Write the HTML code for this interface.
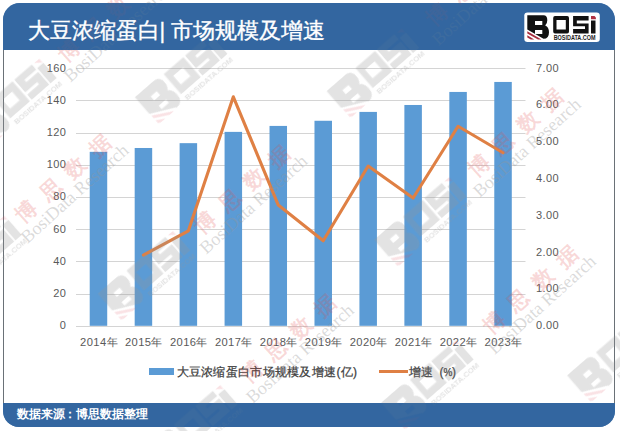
<!DOCTYPE html>
<html><head><meta charset="utf-8">
<style>
html,body{margin:0;padding:0;}
body{width:620px;height:431px;position:relative;overflow:hidden;background:#fff;font-family:"Liberation Sans",sans-serif;}
.card{position:absolute;left:3px;top:3px;width:610px;height:422px;border:1px solid #4a5a6a;border-top:0;border-bottom:0;border-radius:16px;background:#fff;overflow:hidden;}
.hdr{position:absolute;left:3px;top:3px;width:612px;height:46.5px;background:#3366a0;border-radius:17px 17px 0 0;}
.ftr{position:absolute;left:3px;top:403px;width:612px;height:24px;background:#3366a0;border-radius:0 0 16px 16px;}
.side{position:absolute;top:40px;width:1px;height:370px;background:#6a7177;}
.title{position:absolute;left:27.5px;top:16px;font-size:21.5px;color:#fff;white-space:nowrap;line-height:30px;-webkit-text-stroke:0.35px #fff;}
.foot{position:absolute;left:17px;top:405px;font-size:11.8px;font-weight:bold;color:#fff;white-space:nowrap;line-height:18px;}
.logo{position:absolute;left:524px;top:12px;}
.plot{position:absolute;left:0;top:0;}
.lab{position:absolute;font-size:11px;color:#595959;line-height:14px;white-space:nowrap;letter-spacing:0.4px;}
.la{left:20px;width:46.3px;text-align:right;}
.ra{left:536px;}
.ca{top:335px;width:50px;text-align:center;font-size:11.2px;}
.leg{position:absolute;top:363.5px;font-size:12px;color:#3d3d3d;line-height:16px;white-space:nowrap;-webkit-text-stroke:0.25px #3d3d3d;}
</style></head><body>
<div class="side" style="left:3px"></div>
<div class="side" style="left:614px"></div>
<div class="hdr"></div>
<div class="ftr"></div>
<svg class="plot" width="620" height="431">
<line x1="76.0" y1="68.5" x2="525.5" y2="68.5" stroke="#d4d4d4" stroke-width="1"/>
<line x1="76.0" y1="100.5" x2="525.5" y2="100.5" stroke="#d4d4d4" stroke-width="1"/>
<line x1="76.0" y1="133.5" x2="525.5" y2="133.5" stroke="#d4d4d4" stroke-width="1"/>
<line x1="76.0" y1="165.5" x2="525.5" y2="165.5" stroke="#d4d4d4" stroke-width="1"/>
<line x1="76.0" y1="197.5" x2="525.5" y2="197.5" stroke="#d4d4d4" stroke-width="1"/>
<line x1="76.0" y1="229.5" x2="525.5" y2="229.5" stroke="#d4d4d4" stroke-width="1"/>
<line x1="76.0" y1="261.5" x2="525.5" y2="261.5" stroke="#d4d4d4" stroke-width="1"/>
<line x1="76.0" y1="294.5" x2="525.5" y2="294.5" stroke="#d4d4d4" stroke-width="1"/>
<line x1="76.0" y1="326.5" x2="525.5" y2="326.5" stroke="#d4d4d4" stroke-width="1"/>
<rect x="89.72" y="151.85" width="17.5" height="173.95" fill="#5b9bd5"/>
<rect x="134.68" y="147.99" width="17.5" height="177.81" fill="#5b9bd5"/>
<rect x="179.62" y="143.16" width="17.5" height="182.64" fill="#5b9bd5"/>
<rect x="224.58" y="131.88" width="17.5" height="193.92" fill="#5b9bd5"/>
<rect x="269.52" y="125.92" width="17.5" height="199.88" fill="#5b9bd5"/>
<rect x="314.48" y="120.77" width="17.5" height="205.03" fill="#5b9bd5"/>
<rect x="359.43" y="111.91" width="17.5" height="213.89" fill="#5b9bd5"/>
<rect x="404.38" y="104.98" width="17.5" height="220.82" fill="#5b9bd5"/>
<rect x="449.33" y="91.94" width="17.5" height="233.86" fill="#5b9bd5"/>
<rect x="494.28" y="81.95" width="17.5" height="243.85" fill="#5b9bd5"/>
<polyline points="143.43,255.12 188.38,230.82 233.33,96.82 278.27,205.05 323.23,240.76 368.18,166.03 413.12,198.05 458.08,126.27 503.03,152.77" fill="none" stroke="#df8044" stroke-width="3.1" stroke-linejoin="round" stroke-linecap="round"/>
</svg>
<div class="lab la" style="top:60.60px">160</div>
<div class="lab la" style="top:92.81px">140</div>
<div class="lab la" style="top:125.03px">120</div>
<div class="lab la" style="top:157.24px">100</div>
<div class="lab la" style="top:189.45px">80</div>
<div class="lab la" style="top:221.66px">60</div>
<div class="lab la" style="top:253.88px">40</div>
<div class="lab la" style="top:286.09px">20</div>
<div class="lab la" style="top:318.30px">0</div>
<div class="lab ra" style="top:60.60px">7.00</div>
<div class="lab ra" style="top:97.41px">6.00</div>
<div class="lab ra" style="top:134.23px">5.00</div>
<div class="lab ra" style="top:171.04px">4.00</div>
<div class="lab ra" style="top:207.86px">3.00</div>
<div class="lab ra" style="top:244.67px">2.00</div>
<div class="lab ra" style="top:281.49px">1.00</div>
<div class="lab ra" style="top:318.30px">0.00</div>
<div class="lab ca" style="left:73.97px">2014年</div>
<div class="lab ca" style="left:118.93px">2015年</div>
<div class="lab ca" style="left:163.88px">2016年</div>
<div class="lab ca" style="left:208.83px">2017年</div>
<div class="lab ca" style="left:253.77px">2018年</div>
<div class="lab ca" style="left:298.73px">2019年</div>
<div class="lab ca" style="left:343.68px">2020年</div>
<div class="lab ca" style="left:388.62px">2021年</div>
<div class="lab ca" style="left:433.58px">2022年</div>
<div class="lab ca" style="left:478.53px">2023年</div>
<div style="position:absolute;left:149px;top:367.5px;width:25.3px;height:7.5px;background:#5b9bd5"></div>
<div class="leg" style="left:176.5px;letter-spacing:0.3px">大豆浓缩蛋白市场规模及增速(亿)</div>
<div style="position:absolute;left:379px;top:370px;width:29px;height:2.9px;background:#df8044"></div>
<div class="leg" style="left:408.5px">增速<span style="margin-left:7px">(</span><span style="font-size:10px;letter-spacing:-0.3px">%</span><span>)</span></div>
<svg style="position:absolute;left:0;top:0" width="620" height="431">
<defs>
<filter id="bl" x="-20%" y="-20%" width="140%" height="140%"><feGaussianBlur stdDeviation="0.55"/></filter>
<g id="wmlogo">
<g opacity="0.26" filter="url(#bl)">
<path d="M3,2.5 H20 Q25,2.5 25,8 Q25,12 22.5,13.5 Q26,15 26,20 Q26,26.5 20,26.5 H21 L3,17.5 Z M11,8.5 V13 H17.5 V8.5 Z M11,17.2 V21.2 H18.5 V17.2 Z" fill="#969696" stroke="#969696" stroke-width="0.8" stroke-linejoin="round" fill-rule="evenodd"/>
<path d="M29,3.5 H46.5 V21.5 H29 Z M32.5,8 V17 H42.3 V8 Z" fill="#969696" stroke="#969696" stroke-width="0.8" stroke-linejoin="round" fill-rule="evenodd"/>
<path d="M49,3.5 H64.5 V7.5 H53.5 V10.5 H64.5 V21.5 H49 V17.5 H60 V14.5 H49 Z" fill="#969696" stroke="#969696" stroke-width="0.8" stroke-linejoin="round"/>
<rect x="66.5" y="8" width="5" height="13.5" fill="#969696" stroke="#969696" stroke-width="0.8" stroke-linejoin="round"/>
<text x="72" y="28.3" text-anchor="end" font-family="Liberation Sans" font-weight="bold" font-size="5.6" fill="#969696" textLength="43" lengthAdjust="spacingAndGlyphs">BOSIDATA.COM</text>
</g>
<g opacity="0.16" filter="url(#bl)">
<path d="M3,19.5 L17,27.5 H13 L3,22 Z M3,24 L9,27.5 H5 L3,26.5 Z" fill="#e05060"/>
<path d="M67,3.5 H71.5 V7 Z" fill="#e05060"/>
</g>
</g>
</defs>
<g transform="translate(130.1,97.45) rotate(-41) scale(1.42)"><use href="#wmlogo"/></g>
<g transform="translate(321.8,91.3) rotate(-41) scale(1.42)"><use href="#wmlogo"/></g>
<g transform="translate(-40.7,121.6) rotate(-41) scale(1.42)"><use href="#wmlogo"/></g>
<g transform="translate(369.3,240.0) rotate(-41) scale(1.42)"><use href="#wmlogo"/></g>
<g transform="translate(92.9,293.9) rotate(-41) scale(1.42)"><use href="#wmlogo"/></g>
<g transform="translate(376.3,403.0) rotate(-41) scale(1.42)"><use href="#wmlogo"/></g>
<g transform="translate(562.3,375.6) rotate(-41) scale(1.42)"><use href="#wmlogo"/></g>
<g transform="translate(140.3,448.0) rotate(-41) scale(1.42)"><use href="#wmlogo"/></g>
<g transform="translate(-75.7,278.6) rotate(-41) scale(1.42)"><use href="#wmlogo"/></g>
<g transform="translate(204.5,222.7) rotate(-42)"><text x="-10" y="7.5" font-size="21" font-weight="bold" fill="#e05050" fill-opacity="0.22" letter-spacing="12">博思数据</text><text x="-20" y="25" font-family="Liberation Serif" font-size="18" fill="#969696" fill-opacity="0.35">BosiData Research</text></g>
<g transform="translate(25.6,212.0) rotate(-42)"><text x="-10" y="7.5" font-size="21" font-weight="bold" fill="#e05050" fill-opacity="0.22" letter-spacing="12">博思数据</text><text x="-20" y="25" font-family="Liberation Serif" font-size="18" fill="#969696" fill-opacity="0.35">BosiData Research</text></g>
<g transform="translate(478.0,166.0) rotate(-42)"><text x="-10" y="7.5" font-size="21" font-weight="bold" fill="#e05050" fill-opacity="0.22" letter-spacing="12">博思数据</text><text x="-20" y="25" font-family="Liberation Serif" font-size="18" fill="#969696" fill-opacity="0.35">BosiData Research</text></g>
<g transform="translate(493.0,323.0) rotate(-42)"><text x="-10" y="7.5" font-size="21" font-weight="bold" fill="#e05050" fill-opacity="0.22" letter-spacing="12">博思数据</text><text x="-20" y="25" font-family="Liberation Serif" font-size="18" fill="#969696" fill-opacity="0.35">BosiData Research</text></g>
<g transform="translate(251.0,372.0) rotate(-42)"><text x="-10" y="7.5" font-size="21" font-weight="bold" fill="#e05050" fill-opacity="0.22" letter-spacing="12">博思数据</text><text x="-20" y="25" font-family="Liberation Serif" font-size="18" fill="#969696" fill-opacity="0.35">BosiData Research</text></g>
<g transform="translate(436.6,14.3) rotate(-42)"><text x="-10" y="7.5" font-size="21" font-weight="bold" fill="#e05050" fill-opacity="0.22" letter-spacing="12">博思数据</text><text x="-20" y="25" font-family="Liberation Serif" font-size="18" fill="#969696" fill-opacity="0.35">BosiData Research</text></g>
<g transform="translate(68.6,50.8) rotate(-42)"><text x="-10" y="7.5" font-size="21" font-weight="bold" fill="#e05050" fill-opacity="0.22" letter-spacing="12">博思数据</text><text x="-20" y="25" font-family="Liberation Serif" font-size="18" fill="#969696" fill-opacity="0.35">BosiData Research</text></g>
</svg>
<div class="hdr" style="opacity:0.7"></div>
<div class="ftr" style="opacity:0.7"></div>
<div class="title">大豆浓缩蛋白| 市场规模及增速</div>
<svg class="logo" width="76" height="31" viewBox="0 0 76 31">
<rect x="0.3" y="0.4" width="75.5" height="29.6" rx="3.2" fill="#fff"/>
<path d="M3.3,3.3 H19.5 Q23.3,3.3 23.3,8.2 Q23.3,11.8 21.2,13.4 Q25,15 25,20.2 Q25,26.8 19.5,26.8 L3.3,17.5 Z M11,9 V13 H18.3 V9 Z M11,18 V22 H18.3 V18 Z" fill="#111" fill-rule="evenodd"/>
<path d="M3.3,19.3 L17.5,27.6 H14 L3.3,21.6 Z M3.3,23.2 L10.3,27.6 H6.8 L3.3,25.5 Z" fill="#a83040"/>
<path d="M31,4.1 H43.2 Q45,4.1 45,6 V19.6 Q45,21.5 43.2,21.5 H31 Q29.2,21.5 29.2,19.6 V6 Q29.2,4.1 31,4.1 Z M32.5,8.1 V17.5 H41.8 V8.1 Z" fill="#111" fill-rule="evenodd"/>
<path d="M49.1,4.1 H64.6 V8.6 H52.8 V11.4 H64.6 V21.5 H49.1 V17 H61 V14.2 H49.1 Z" fill="#111"/>
<rect x="67" y="8.5" width="4.5" height="13" fill="#111"/>
<path d="M67,4.1 H70.5 L71.9,5.5 V7.3 H67 Z" fill="#b03040"/>
<text x="71.5" y="28.4" text-anchor="end" font-family="Liberation Sans" font-weight="bold" font-size="6.4" fill="#222" textLength="41.8" lengthAdjust="spacingAndGlyphs">BOSIDATA.COM</text>
</svg>
<div class="foot">数据来源<span style="margin-left:-1.5px">：</span><span style="margin-left:0px">博思数据整理</span></div>
</body></html>
